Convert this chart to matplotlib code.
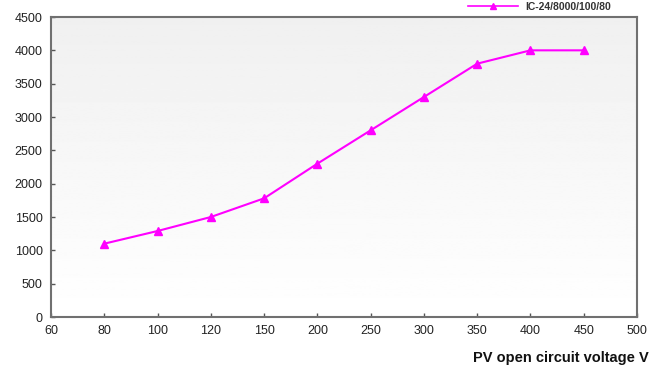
import matplotlib
matplotlib.use("Agg")
import matplotlib.pyplot as plt
import numpy as np

plt.rcParams["font.family"] = ["Liberation Sans", "DejaVu Sans"]

x_labels = ["60", "80", "100", "120", "150", "200", "250", "300", "350", "400", "450", "500"]
voltage = ["80", "100", "120", "150", "200", "250", "300", "350", "400", "450"]
power = [1100, 1290, 1500, 1780, 2300, 2800, 3300, 3800, 4000, 4000]
series_name = "IC-24/8000/100/80"

fig = plt.figure(figsize=(6.5, 3.68), dpi=100)
ax = fig.add_axes([51 / 650, 1 - 317 / 368, 586 / 650, 300 / 368])

# light vertical gradient behind the plot: grey at top, white at bottom
grad = np.linspace(0.94, 1.0, 256).reshape(-1, 1)
ax.imshow(grad, cmap="gray", vmin=0, vmax=1, aspect="auto", origin="upper",
          extent=[0, len(x_labels) - 1, 0, 4500], zorder=0)

xpos = [x_labels.index(v) for v in voltage]
ax.plot(xpos, power, color="#ff00ff", lw=1.5, marker="^", ms=6, zorder=3)

ax.set_xlim(0, len(x_labels) - 1)
ax.set_ylim(0, 4500)
ax.set_xticks(range(len(x_labels)))
ax.set_xticklabels(x_labels)
ax.set_yticks(np.arange(0, 4501, 500))
ax.tick_params(direction="in", length=3, width=1, color="#555555",
               labelsize=9, pad=6, labelcolor="#222222")
for s in ax.spines.values():
    s.set_color("#707070")
    s.set_linewidth(1.5)

fig.text(0.998, 1 - 358 / 368, "PV open circuit voltage V", ha="right", va="center",
         fontsize=10.5, fontweight="bold", color="#111111")

# legend sitting at the top edge
fig.add_artist(plt.Line2D([468 / 650, 518 / 650], [1 - 6 / 368, 1 - 6 / 368],
                          color="#ff00ff", lw=1.2))
fig.add_artist(plt.Line2D([493 / 650], [1 - 6 / 368], color="#ff00ff",
                          marker="^", ms=4))
fig.text(525 / 650, 1 - 7 / 368, series_name, ha="left", va="center",
         fontsize=7.5, fontweight="bold", color="#333333")

fig.savefig("out.png", dpi=100)
